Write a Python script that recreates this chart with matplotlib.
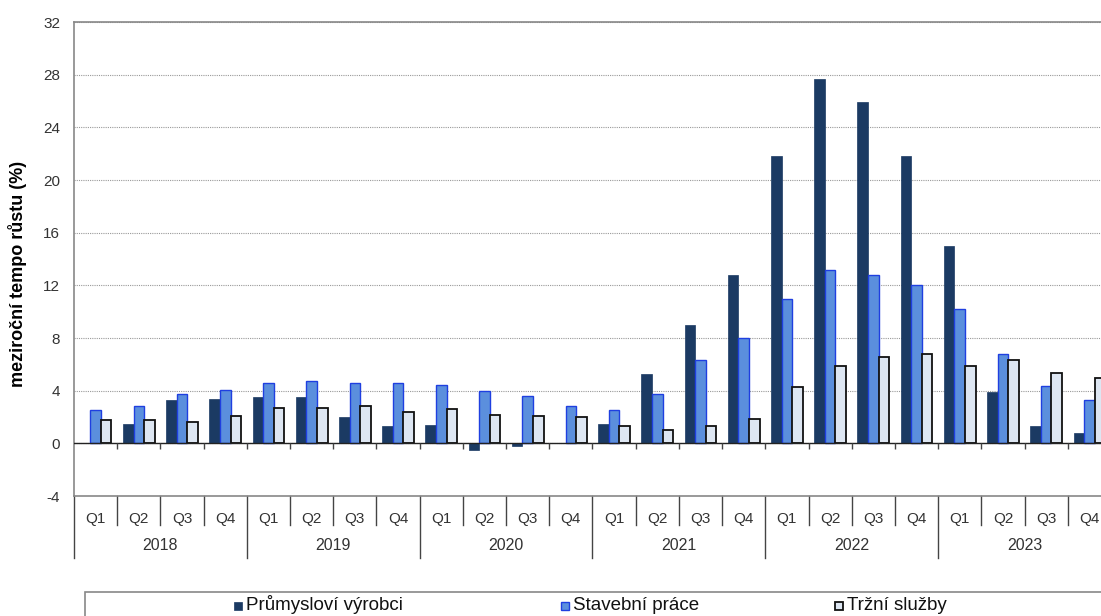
import matplotlib.pyplot as plt
from matplotlib.lines import Line2D
from matplotlib.patches import Rectangle
import numpy as np

plt.rcParams['font.family'] = ['Liberation Sans', 'DejaVu Sans']
plt.rcParams['axes.unicode_minus'] = False

# quarters 2018 Q1 .. 2023 Q4
quarters = ['Q1', 'Q2', 'Q3', 'Q4'] * 6
years = ['2018', '2019', '2020', '2021', '2022', '2023']

prumysl = [0.0, 1.5, 3.3, 3.4, 3.5, 3.5, 2.0, 1.3,
           1.4, -0.5, -0.2, 0.0, 1.5, 5.3, 9.0, 12.8,
           21.8, 27.7, 25.9, 21.8, 15.0, 3.9, 1.3, 0.8]
stavebni = [2.5, 2.8, 3.75, 4.05, 4.55, 4.75, 4.55, 4.55,
            4.45, 4.0, 3.6, 2.85, 2.55, 3.75, 6.3, 8.0,
            11.0, 13.2, 12.8, 12.0, 10.2, 6.75, 4.35, 3.3]
trzni = [1.8, 1.8, 1.65, 2.05, 2.65, 2.65, 2.8, 2.4,
         2.6, 2.15, 2.05, 2.0, 1.35, 1.05, 1.35, 1.85,
         4.25, 5.85, 6.55, 6.75, 5.85, 6.35, 5.35, 4.95]

labels = ['Průmysloví výrobci', 'Stavební práce', 'Tržní služby']

W, H = 1101, 616
fig = plt.figure(figsize=(W / 100, H / 100), dpi=100)
ax = fig.add_axes([74 / W, 1 - 496 / H, (1111 - 74) / W, (496 - 22) / H])

x = np.arange(len(quarters))
bw = 0.245
ax.bar(x - bw, prumysl, bw, color='#1B3A63', edgecolor='#1B3A63', linewidth=0.5, zorder=3)
ax.bar(x, stavebni, bw, color='#5B8FDD', edgecolor='#1F3FE0', linewidth=1.0, zorder=3)
ax.bar(x + bw, trzni, bw, color='#DDE6F2', edgecolor='#111111', linewidth=1.3, zorder=3)

ax.set_xlim(-0.5, len(quarters) - 0.5)
ax.set_ylim(-4, 32)
ax.set_yticks(np.arange(-4, 33, 4))
ax.tick_params(axis='y', length=0, pad=10, labelsize=11, labelcolor='#333333')
ax.set_xticks([])
ax.grid(axis='y', linestyle=(0, (1, 1)), color='#999999', linewidth=0.8, zorder=0)
ax.axhline(0, color='#222222', linewidth=1.0, zorder=4)
ax.vlines(x[1:] - 0.5, -0.4, 0, color='#444444', linewidth=1.0, zorder=4)

for s in ['left', 'top', 'bottom']:
    ax.spines[s].set_color('#888888')
    ax.spines[s].set_linewidth(1.2)
ax.spines['right'].set_visible(False)

ax.set_ylabel('meziroční tempo růstu (%)', fontsize=13, fontweight='bold')
ax.yaxis.set_label_coords(-0.045, 0.468)

# category table below the plot
tr = ax.get_xaxis_transform()
ph = 496 - 22
for i, q in enumerate(quarters):
    ax.text(i, -23 / ph, q, transform=tr, ha='center', va='center',
            fontsize=11, color='#333333')
    top = -62 / ph if i % 4 == 0 else -29 / ph
    ax.add_line(Line2D([i - 0.5, i - 0.5], [0, top], transform=tr,
                       color='#444444', linewidth=1.0, clip_on=False))
for j, yr in enumerate(years):
    ax.text(4 * j + 1.5, -49 / ph, yr, transform=tr, ha='center', va='center',
            fontsize=11.5, color='#333333')

# legend box
fig.add_artist(Rectangle((85 / W, -0.01), 1.0, (617 - 587) / H,
                         transform=fig.transFigure, facecolor='white',
                         edgecolor='#888888', linewidth=1.2))
handle_style = [dict(facecolor='#1B3A63', edgecolor='#1B3A63', lw=0.5),
                dict(facecolor='#5B8FDD', edgecolor='#1F3FE0', lw=1.0),
                dict(facecolor='#DDE6F2', edgecolor='#111111', lw=1.3)]
leg_x = [234, 561, 835]
for lx, lab, st in zip(leg_x, labels, handle_style):
    fig.add_artist(Rectangle((lx / W, 1 - 610 / H), 8 / W, 8 / H,
                             transform=fig.transFigure, **st))
    fig.text((lx + 12) / W, 1 - 605 / H, lab, ha='left', va='center',
             fontsize=13.5, color='#111111')

fig.savefig('out.png', dpi=100)
